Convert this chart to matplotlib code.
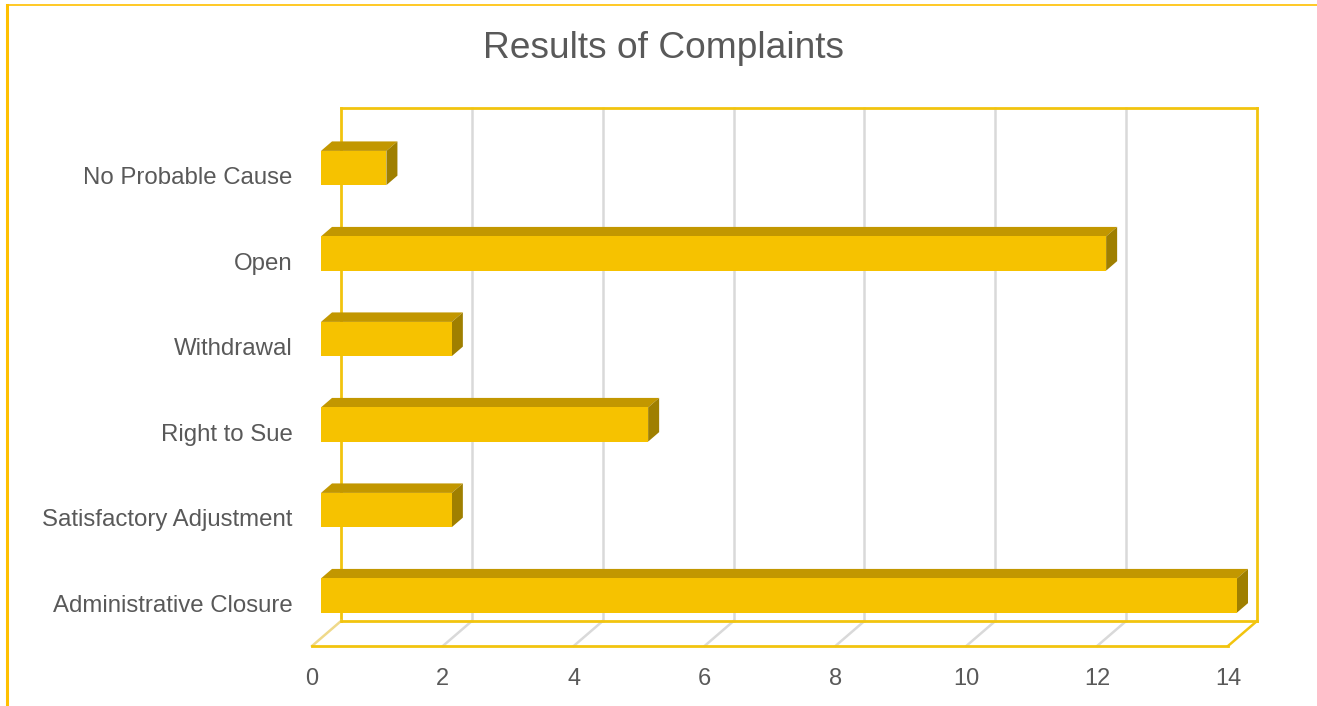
import matplotlib
matplotlib.use("Agg")
import matplotlib.pyplot as plt
from matplotlib.lines import Line2D
from matplotlib.patches import Polygon

categories = ["Administrative Closure", "Satisfactory Adjustment", "Right to Sue",
              "Withdrawal", "Open", "No Probable Cause"]
values = [14, 2, 5, 2, 12, 1]
xticks = [0, 2, 4, 6, 8, 10, 12, 14]
title = "Results of Complaints"

plt.rcParams["font.family"] = ["Liberation Sans", "DejaVu Sans"]

GOLD = "#FFC000"
AXIS_GOLD = "#F2C40E"
GRID = "#D9D9D9"
FRONT = "#F6C200"
TOP = "#C29700"
SIDE = "#9F7F00"
TEXT = "#595959"

# oblique depth vector (front plane -> back wall), in data units
DX, DY = 0.443, 0.292
Z_FRONT, Z_DEPTH = 0.31, 0.38
BAR_H = 0.4

fig = plt.figure(figsize=(13.17, 7.06), dpi=100)
ax = fig.add_axes([312 / 1317, 60 / 706, 916 / 1317, 513 / 706])
ax.set_xlim(0, 14)
ax.set_ylim(-0.5, 5.5)
for s in ax.spines.values():
    s.set_visible(False)

y0, y1 = -0.5, 5.5
# back wall + floor grid
for v in xticks:
    edge = v in (0, 14)
    col = AXIS_GOLD if edge else GRID
    ax.plot([v + DX, v + DX], [y0 + DY, y1 + DY], color=col, lw=2 if edge else 1.8,
            clip_on=False, zorder=1)
    fcol = AXIS_GOLD if v == 14 else ("#EFD98A" if v == 0 else GRID)
    ax.plot([v, v + DX], [y0, y0 + DY], color=fcol, lw=1.8, clip_on=False, zorder=1)
ax.plot([DX, 14 + DX], [y1 + DY, y1 + DY], color=AXIS_GOLD, lw=2, clip_on=False, zorder=1)
ax.plot([DX, 14 + DX], [y0 + DY, y0 + DY], color=AXIS_GOLD, lw=2, clip_on=False, zorder=1)
ax.plot([0, 14], [y0, y0], color=AXIS_GOLD, lw=2, clip_on=False, zorder=1)

# 3D-looking bars
ox, oy = Z_FRONT * DX, Z_FRONT * DY
bx, by = Z_DEPTH * DX, Z_DEPTH * DY
for i, v in enumerate(values):
    yc = i + oy
    yb, yt = yc - BAR_H / 2, yc + BAR_H / 2
    x0, x1 = ox, ox + v
    ax.add_patch(Polygon([(x0, yt), (x1, yt), (x1 + bx, yt + by), (x0 + bx, yt + by)],
                         closed=True, facecolor=TOP, edgecolor="none", zorder=3,
                         clip_on=False))
    ax.add_patch(Polygon([(x1, yb), (x1, yt), (x1 + bx, yt + by), (x1 + bx, yb + by)],
                         closed=True, facecolor=SIDE, edgecolor="none", zorder=3,
                         clip_on=False))
    bars = ax.barh(yc, v, left=x0, height=BAR_H, color=FRONT, zorder=4)
    for b in bars:
        b.set_clip_on(False)

ax.set_xticks(xticks)
ax.set_xticklabels([str(t) for t in xticks])
ax.set_yticks(range(len(categories)))
ax.set_yticklabels(categories)
ax.tick_params(axis="x", length=0, pad=15.5, labelsize=17, labelcolor=TEXT)
ax.tick_params(axis="y", length=0, pad=14, labelsize=17.3, labelcolor=TEXT)

fig.text(663 / 1317, 1 - 48 / 706, title, ha="center", va="center",
         fontsize=26.7, color=TEXT)

# chart border (partly visible)
fig.add_artist(Line2D([7 / 1317, 7 / 1317], [0, 1 - 5 / 706], color=GOLD, lw=2.2))
fig.add_artist(Line2D([7 / 1317, 1], [1 - 5 / 706, 1 - 5 / 706], color=GOLD, lw=1.2))

fig.savefig("out.png", dpi=100)
